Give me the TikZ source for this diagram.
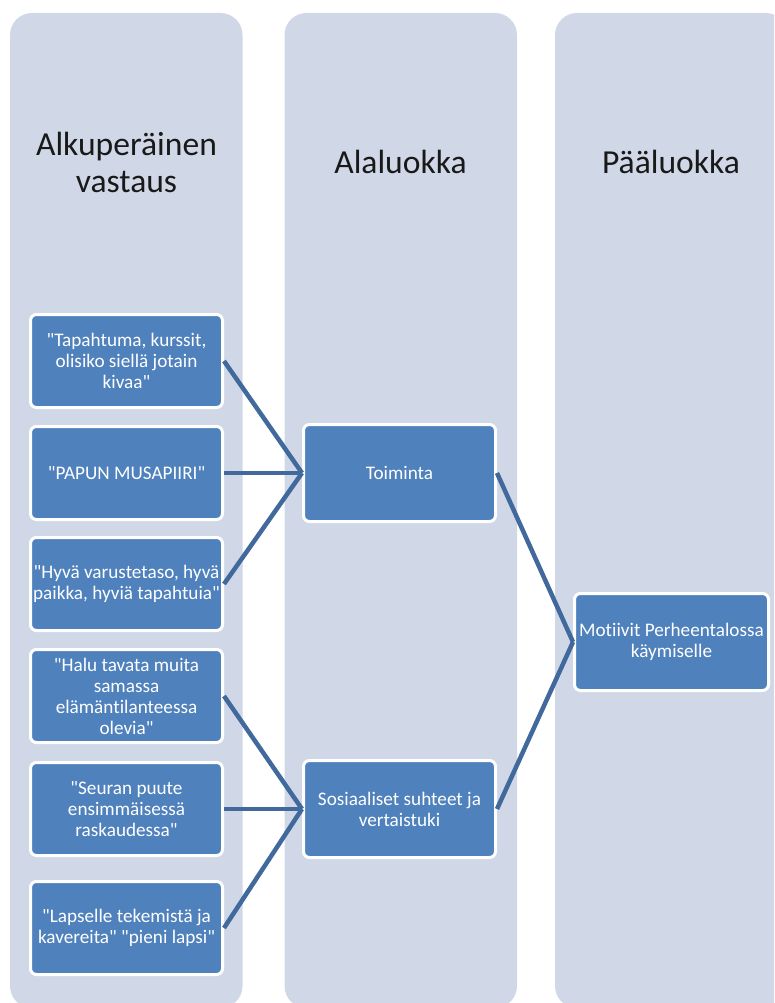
\documentclass[tikz,border=0pt]{standalone}
\usepackage{fontspec}
\setmainfont{Carlito}[Ligatures={TeXOff,NoCommon}]
\usepackage{xcolor}
\definecolor{colbg}{HTML}{D0D8E8}
\definecolor{boxfill}{HTML}{4F81BD}
\definecolor{linkblue}{HTML}{41699B}

\begin{document}
\begin{tikzpicture}[x=1pt,y=-1pt]
 \tikzstyle{box}=[rectangle, rounded corners=6, fill=boxfill, draw=white,
                  line width=3, text=white, align=center, inner sep=2,
                  minimum width=192, minimum height=93,
                  font=\fontsize{19.2}{21}\selectfont]
 \tikzstyle{head}=[align=center, text=black!90, font=\fontsize{33.6}{37}\selectfont]
 \tikzstyle{link}=[linkblue, line width=4.5]

\useasboundingbox (0,0) rectangle (774,1003);
\clip (0,0) rectangle (774,1003);

\foreach \x in {10, 284.5, 555}
  \fill[colbg, rounded corners=22] (\x,13) rectangle ++(232.5,995);

\node[head] (hdrA) at (126.5,162) {Alkuperäinen\\ vastaus};
\node[head] (hdrB) at (400.5,162) {Alaluokka};
\node[head] (hdrC) at (671,162) {Pääluokka};

\node[box] (ans1) at (126.5,361) {"Tapahtuma, kurssit,\\ olisiko siellä jotain\\ kivaa"};
\node[box] (ans2) at (126.5,473) {"PAPUN MUSAPIIRI"};
\node[box] (ans3) at (126.5,584) {"Hyvä varustetaso, hyvä\\ paikka, hyviä tapahtuia"};
\node[box] (ans4) at (126.5,696) {"Halu tavata muita\\ samassa\\ elämäntilanteessa\\ olevia"};
\node[box] (ans5) at (126.5,809) {"Seuran puute\\ ensimmäisessä\\ raskaudessa"};
\node[box] (ans6) at (126.5,928) {"Lapselle tekemistä ja\\ kavereita" "pieni lapsi"};

\node[box, minimum height=97] (toim) at (399.5,473) {Toiminta};
\node[box, minimum height=97] (sos) at (399.5,809) {Sosiaaliset suhteet ja\\ vertaistuki};

\node[box, minimum width=194, minimum height=97] (motiivit) at (671.5,642) {Motiivit Perheentalossa\\ käymiselle};

 \path[link]
    (ans1.east) edge (toim.west)
    (ans2.east) edge (toim.west)
    (ans3.east) edge (toim.west)
    (ans4.east) edge (sos.west)
    (ans5.east) edge (sos.west)
    (ans6.east) edge (sos.west)
    (toim.east) edge (motiivit.west)
    (sos.east) edge (motiivit.west);

\end{tikzpicture}
\end{document}
